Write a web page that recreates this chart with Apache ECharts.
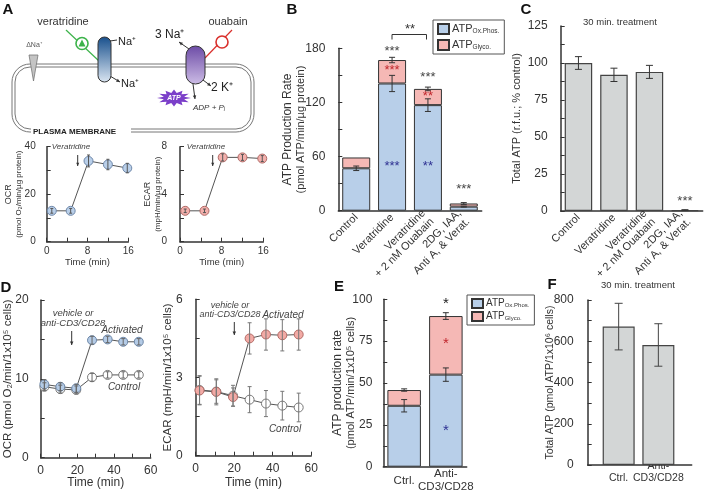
<!DOCTYPE html>
<html>
<head>
<meta charset="utf-8">
<script src="https://cdn.jsdelivr.net/npm/echarts@6/dist/echarts.min.js"></script>
<style>
  html, body { margin: 0; padding: 0; background: #fff; }
  #main { width: 709px; height: 494px; }
</style>
</head>
<body>
<div id="main"></div>
<script>
// ---- data ----
// A: veratridine time course
var aTime = [1, 4.7, 8.2, 12, 15.8];
var aOcr = [13, 13, 34, 32.5, 31];
var aOcrErr = [1, 1, 2.5, 2.2, 2];
var aEcar = [2.6, 2.6, 7.1, 7.1, 7.0];
var aEcarErr = [0.15, 0.15, 0.3, 0.25, 0.25];

// B: ATP production rate (stacked)
var bCats = ["Control", "Veratridine", "Veratridine\n+ 2 nM Ouabain", "2DG, IAA,\nAnti A, & Verat."];
var bOx = [47, 141, 117, 4.5];
var bGly = [12, 26, 18, 3.5];
var bOxErr = [2.5, 9, 7, 0.5];
var bTotErr = [0, 3, 2, 1];

// C: total ATP, 30 min
var cVals = [100, 92, 94, 0.6];
var cErr = [4.3, 4.5, 4.4, 0.3];

// D: T cell activation time course
var dTime = [2, 10.7, 19.4, 28, 36.5, 45, 53.5];
var dOcrAct = [9.3, 9.0, 8.8, 14.9, 15.0, 14.7, 14.7];
var dOcrActErr = [0.6, 0.5, 0.5, 0.5, 0.4, 0.4, 0.4];
var dOcrCtl = [9.0, 8.7, 8.6, 10.2, 10.5, 10.5, 10.5];
var dOcrCtlErr = [0.5, 0.5, 0.5, 0.5, 0.4, 0.4, 0.4];
var dEcarAct = [2.5, 2.45, 2.25, 4.5, 4.65, 4.62, 4.65];
var dEcarActErr = [0.55, 0.5, 0.35, 0.6, 0.6, 0.6, 0.6];
var dEcarCtl = [2.52, 2.46, 2.3, 2.15, 2.0, 1.92, 1.85];
var dEcarCtlErr = [0.55, 0.45, 0.4, 0.5, 0.5, 0.55, 0.55];

// E: ATP production rate, T cells
var eCats = ["Ctrl.", "Anti-\nCD3/CD28"];
var eOx = [36.4, 55];
var eGly = [9.4, 35];
var eOxErr = [3.7, 4];
var eTotErr = [0.7, 2];

// F: total ATP, T cells
var fCats = ["Ctrl.", "Anti-\nCD3/CD28"];
var fVals = [671, 582];
var fErr = [113, 103];

// significance marks [category, y, text, colour]
var GRY = "#444", RED = "#c1272d", BLU = "#2e3192";
var sigB = [[1, 177, "***", GRY], [1, 155, "***", RED], [1, 49, "***", BLU],
            [2, 148, "***", GRY], [2, 127, "**", RED], [2, 49, "**", BLU],
            [3, 24, "***", GRY]];
var sigC = [[3, 6.5, "***", GRY]];
var sigE = [[1, 97, "*", "#222"], [1, 73.5, "*", RED], [1, 21.5, "*", BLU]];

// ---- helpers ----
var FONT = "Liberation Sans";
var FF = '"Liberation Sans", Arial, sans-serif';
var AX = "#333";
var BLUEF = "#b8cfe9", PINKF = "#f5b8b5", GREYF = "#d3d6d6";

function pick(v, every) {
  var r = v / every;
  return Math.abs(r - Math.round(r)) < 1e-6 ? String(v) : "";
}

function valAxis(gi, min, max, step, every, fs, margin, extra) {
  var o = {
    type: "value", gridIndex: gi, min: min, max: max, interval: step,
    nameMoveOverlap: false,
    axisLine: { show: true, onZero: false, lineStyle: { color: AX, width: 1.5 } },
    axisTick: { show: true, inside: true, length: 4, lineStyle: { color: AX, width: 1 } },
    splitLine: { show: false },
    axisLabel: { color: "#333", fontSize: fs, fontFamily: FONT, margin: margin,
      formatter: function (v) { return pick(v, every); } },
    nameTextStyle: { color: "#333", fontFamily: FONT }
  };
  for (var k in extra) o[k] = extra[k];
  return o;
}

function catAxis(gi, cats, label) {
  var l = { color: "#333", fontSize: 11, fontFamily: FONT, interval: 0 };
  for (var k in label) l[k] = label[k];
  return {
    type: "category", gridIndex: gi, data: cats,
    axisLine: { show: true, lineStyle: { color: AX, width: 1.5 } },
    axisTick: { show: false },
    axisLabel: l
  };
}

// vertical error bars: data rows [x, low, high]
function errSeries(ai, rows, cap, color, z) {
  return {
    type: "custom", xAxisIndex: ai, yAxisIndex: ai, z: z || 5, silent: true,
    data: rows,
    renderItem: function (params, api) {
      var lo = api.coord([api.value(0), api.value(1)]);
      var hi = api.coord([api.value(0), api.value(2)]);
      var st = { stroke: color, lineWidth: 1 };
      return { type: "group", children: [
        { type: "line", shape: { x1: lo[0], y1: lo[1], x2: hi[0], y2: hi[1] }, style: st },
        { type: "line", shape: { x1: lo[0] - cap, y1: lo[1], x2: lo[0] + cap, y2: lo[1] }, style: st },
        { type: "line", shape: { x1: hi[0] - cap, y1: hi[1], x2: hi[0] + cap, y2: hi[1] }, style: st }
      ] };
    }
  };
}

function sigSeries(ai, marks, fs) {
  return {
    type: "custom", xAxisIndex: ai, yAxisIndex: ai, z: 20, silent: true,
    data: marks.map(function (m) { return [m[0], m[1]]; }),
    renderItem: function (params, api) {
      var p = api.coord([api.value(0), api.value(1)]);
      var m = marks[params.dataIndex];
      return { type: "text", x: p[0], y: p[1], style: {
        text: m[2], fill: m[3], font: fs + "px " + FF,
        align: "center", verticalAlign: "middle", textAlign: "center", textVerticalAlign: "middle" } };
    }
  };
}

function pts(xs, ys) { return xs.map(function (x, i) { return [x, ys[i]]; }); }
function errRows(xs, ys, es) {
  var out = [];
  xs.forEach(function (x, i) { if (es[i] > 0) out.push([x, ys[i] - es[i], ys[i] + es[i]]); });
  return out;
}
function sum(a, b) { return a.map(function (v, i) { return v + b[i]; }); }
function idx(a) { return a.map(function (v, i) { return i; }); }

function lineSeries(ai, data, fill, border, size, z) {
  return {
    type: "line", xAxisIndex: ai, yAxisIndex: ai, data: data, z: z || 3,
    symbol: "circle", symbolSize: size, showSymbol: true, silent: true,
    lineStyle: { color: "#555", width: 1 },
    itemStyle: { color: fill, borderColor: border, borderWidth: 1 },
    animation: false
  };
}

function T(x, y, s, o) {
  o = o || {};
  var a = o.a || "center";
  return { type: "text", x: x, y: y, z: 100, rotation: o.r || 0, style: {
    text: s, fill: o.c || "#333",
    font: (o.it ? "italic " : "") + (o.b ? "bold " : "") + (o.fs || 11) + "px " + FF,
    align: a, textAlign: a, verticalAlign: "middle", textVerticalAlign: "middle" } };
}
function L(x1, y1, x2, y2, c, w) {
  return { type: "line", z: 90, shape: { x1: x1, y1: y1, x2: x2, y2: y2 }, style: { stroke: c || "#333", lineWidth: w || 1 } };
}
function arrow(x1, y1, x2, y2, c, hs) {
  c = c || "#333"; hs = hs || 4;
  var ang = Math.atan2(y2 - y1, x2 - x1);
  var p1 = [x2 - hs * Math.cos(ang - 0.45), y2 - hs * Math.sin(ang - 0.45)];
  var p2 = [x2 - hs * Math.cos(ang + 0.45), y2 - hs * Math.sin(ang + 0.45)];
  return [L(x1, y1, x2, y2, c, 1),
    { type: "polygon", z: 91, shape: { points: [[x2, y2], p1, p2] }, style: { fill: c } }];
}
function starPts(cx, cy, rx, ry, n) {
  var out = [];
  for (var i = 0; i < n * 2; i++) {
    var a = Math.PI * i / n, f = i % 2 ? 0.62 : 1;
    out.push([cx + rx * f * Math.cos(a), cy + ry * f * Math.sin(a)]);
  }
  return out;
}

// ---- panel A cartoon ----
var G = echarts.graphic;
var cartoon = [
  { type: "rect", z: 80, shape: { x: 12, y: 64, width: 242, height: 68, r: 18 }, style: { fill: "#fff", stroke: "#777", lineWidth: 1 } },
  { type: "rect", z: 80, shape: { x: 15, y: 67, width: 236, height: 62, r: 15 }, style: { fill: "none", stroke: "#777", lineWidth: 1 } },
  { type: "rect", z: 81, shape: { x: 31, y: 127, width: 100, height: 9 }, style: { fill: "#fff" } },
  T(33, 131.5, "PLASMA MEMBRANE", { a: "left", b: true, fs: 8, c: "#222" }),
  { type: "polygon", z: 82, shape: { points: [[29, 55], [38, 55], [33.5, 81]] }, style: { fill: "#c4c4c4", stroke: "#777", lineWidth: 0.8 } },
  T(34, 45, "ΔNa⁺", { fs: 7, c: "#555" }),
  T(63, 22, "veratridine", { fs: 11, c: "#333" }),
  L(66, 30, 99, 61, "#3cb34a", 1.2),
  { type: "circle", z: 92, shape: { cx: 82, cy: 43.5, r: 6 }, style: { fill: "#fff", stroke: "#3cb34a", lineWidth: 1.6 } },
  { type: "polygon", z: 93, shape: { points: [[82, 39.5], [78.5, 46.5], [85.5, 46.5]] }, style: { fill: "#3cb34a" } },
  { type: "rect", z: 92, shape: { x: 98, y: 37, width: 13, height: 45, r: 6.5 },
    style: { fill: new G.LinearGradient(0, 0, 0, 1, [{ offset: 0, color: "#174f8c" }, { offset: 1, color: "#dbe6f2" }]), stroke: "#333", lineWidth: 1 } },
  L(110, 41, 117, 40, "#333", 1),
  T(118, 42, "Na⁺", { a: "left", fs: 11, c: "#222" }),
  T(121, 84, "Na⁺", { a: "left", fs: 11, c: "#222" }),
  { type: "rect", z: 92, shape: { x: 186, y: 46, width: 19, height: 38, r: 9.5 },
    style: { fill: new G.LinearGradient(0, 0, 0, 1, [{ offset: 0, color: "#6c4ba6" }, { offset: 1, color: "#cdbde6" }]), stroke: "#333", lineWidth: 1 } },
  T(155, 35, "3 Na⁺", { a: "left", fs: 12, c: "#222" }),
  T(228, 22, "ouabain", { fs: 11, c: "#333" }),
  L(232, 30, 205, 58, "#d9302c", 1.2),
  { type: "circle", z: 92, shape: { cx: 222, cy: 42, r: 6 }, style: { fill: "#fff", stroke: "#d9302c", lineWidth: 1.6 } },
  L(218.5, 38.5, 225.5, 45.5, "#d9302c", 1.4),
  L(225.5, 38.5, 218.5, 45.5, "#d9302c", 1.4),
  T(211, 88, "2 K⁺", { a: "left", fs: 12, c: "#222" }),
  { type: "polygon", z: 92, shape: { points: starPts(174, 98, 17, 8.5, 12) }, style: { fill: "#7b3fc9" } },
  T(174, 98, "ATP", { fs: 7, it: true, b: true, c: "#fff" }),
  T(193, 108, "ADP + Pᵢ", { a: "left", fs: 8, it: true, c: "#333" })
];
cartoon = cartoon
  .concat(arrow(110, 76, 120, 82))
  .concat(arrow(189, 49, 179, 42))
  .concat(arrow(203, 80, 211, 86))
  .concat(arrow(193, 84, 195, 99));

// ---- other annotations ----
var notes = [
  T(8, 10, "A", { b: true, fs: 15, c: "#111" }),
  T(292, 10, "B", { b: true, fs: 15, c: "#111" }),
  T(526, 10, "C", { b: true, fs: 15, c: "#111" }),
  T(6, 288, "D", { b: true, fs: 15, c: "#111" }),
  T(339, 287, "E", { b: true, fs: 15, c: "#111" }),
  T(552, 285, "F", { b: true, fs: 15, c: "#111" }),
  T(620, 22, "30 min. treatment", { fs: 9.5 }),
  T(638, 285, "30 min. treatment", { fs: 9.5 }),
  T(71, 147, "Veratridine", { it: true, fs: 8, c: "#444" }),
  T(206, 147, "Veratridine", { it: true, fs: 8, c: "#444" }),
  T(73, 313, "vehicle or", { it: true, fs: 9.5, c: "#444" }),
  T(73, 323, "anti-CD3/CD28", { it: true, fs: 9.5, c: "#444" }),
  T(122, 330, "Activated", { it: true, fs: 10, c: "#444" }),
  T(124, 387, "Control", { it: true, fs: 10, c: "#444" }),
  T(230, 305, "vehicle or", { it: true, fs: 9, c: "#444" }),
  T(230, 314, "anti-CD3/CD28", { it: true, fs: 9, c: "#444" }),
  T(283, 315, "Activated", { it: true, fs: 10, c: "#444" }),
  T(285, 429, "Control", { it: true, fs: 10, c: "#444" }),
  { type: "polyline", z: 90, shape: { points: [[392, 39.5], [392, 34.5], [426.5, 34.5], [426.5, 39.5]] }, style: { stroke: "#333", lineWidth: 1, fill: null } },
  T(410, 29, "**", { fs: 13, c: "#333" })
];
notes = notes
  .concat(arrow(77.7, 155, 77.7, 166, "#333", 3.5))
  .concat(arrow(212.7, 155, 212.7, 166, "#333", 3.5))
  .concat(arrow(71.7, 331, 71.7, 345, "#333", 4))
  .concat(arrow(234.3, 322, 234.3, 335, "#333", 4));

// ---- axes ----
function yName(gap, rich, txt) {
  return { name: txt, nameLocation: "middle", nameGap: gap,
    nameTextStyle: { color: "#333", fontFamily: FONT, rich: rich, align: "center" } };
}
var richA = { b: { fontSize: 9, fontFamily: FONT, color: "#333", lineHeight: 10 }, s: { fontSize: 8, fontFamily: FONT, color: "#333", lineHeight: 10 } };
var richB = { b: { fontSize: 12, fontFamily: FONT, color: "#333", lineHeight: 13 }, s: { fontSize: 11, fontFamily: FONT, color: "#333", lineHeight: 13 } };
var timeA = { name: "Time (min)", nameLocation: "middle", nameGap: 16, nameTextStyle: { color: "#333", fontFamily: FONT, fontSize: 9.5 } };
var timeD = { name: "Time (min)", nameLocation: "middle", nameGap: 19, nameTextStyle: { color: "#333", fontFamily: FONT, fontSize: 12 } };
var rot = { rotate: 45, margin: 5, fontSize: 11, lineHeight: 12 };

var xAxes = [
  valAxis(0, 0, 16, 4, 8, 10, 5, timeA),
  valAxis(1, 0, 16, 4, 8, 10, 5, timeA),
  catAxis(2, bCats, rot),
  catAxis(3, bCats, rot),
  valAxis(4, 0, 60, 10, 20, 12, 7, timeD),
  valAxis(5, 0, 60, 10, 20, 12, 7, { name: "Time (min)", nameLocation: "middle", nameGap: 21, nameTextStyle: { color: "#333", fontFamily: FONT, fontSize: 12 } }),
  catAxis(6, eCats, { verticalAlign: "middle", margin: 14, fontSize: 11.5, lineHeight: 13 }),
  {
    type: "value", gridIndex: 7, min: 0.22, max: 2.84,
    axisLine: { show: true, onZero: false, lineStyle: { color: AX, width: 1.5 } },
    axisTick: { show: false }, splitLine: { show: false },
    axisLabel: { customValues: [1, 2], color: "#333", fontSize: 10.5, fontFamily: FONT, lineHeight: 12,
      verticalAlign: "bottom", margin: 19,
      formatter: function (v) { return fCats[Math.round(v) - 1] || ""; } }
  }
];

var yAxes = [
  valAxis(0, 0, 40, 10, 20, 10, 11, yName(23, richA, "{b|OCR}\n{s|(pmol O₂/min/µg protein)}")),
  valAxis(1, 0, 8, 2, 4, 10, 13, yName(17, richA, "{b|ECAR}\n{s|(mpH/min/µg protein)}")),
  valAxis(2, 0, 180, 30, 60, 12, 13, yName(31, richB, "{b|ATP Production Rate}\n{s|(pmol ATP/min/µg protein)}")),
  valAxis(3, 0, 125, 12.5, 25, 12, 13, yName(37, richB, "{s|Total ATP (r.f.u.; % control)}")),
  valAxis(4, 0, 20, 5, 10, 12, 12, yName(27, { s: { fontSize: 11.5, fontFamily: FONT, color: "#333" } }, "{s|OCR (pmol O₂/min/1x10⁵ cells)}")),
  valAxis(5, 0, 6, 1.5, 3, 12, 13, yName(22, { s: { fontSize: 11.5, fontFamily: FONT, color: "#333" } }, "{s|ECAR (mpH/min/1x10⁵ cells)}")),
  valAxis(6, 0, 100, 12.5, 25, 12, 11, yName(26, richB, "{b|ATP production rate}\n{s|(pmol ATP/min/1x10⁵ cells)}")),
  valAxis(7, 0, 800, 100, 200, 12, 14, yName(32, { s: { fontSize: 10.5, fontFamily: FONT, color: "#333" } }, "{s|Total ATP (pmol ATP/1x10⁶ cells)}"))
];

// ---- series ----
function stackBar(ai, name, data, color, stack, width) {
  return { type: "bar", name: name, xAxisIndex: ai, yAxisIndex: ai, stack: stack, data: data, barWidth: width,
    itemStyle: { color: color, borderColor: "#333", borderWidth: 1 }, silent: true, animation: false };
}

var series = [
  // A
  lineSeries(0, pts(aTime, aOcr), "#b9cfe9", "#6f88aa", 9),
  errSeries(0, errRows(aTime, aOcr, aOcrErr), 1.5, "#555", 6),
  lineSeries(1, pts(aTime, aEcar), "#f3b0ac", "#b06a66", 9),
  errSeries(1, errRows(aTime, aEcar, aEcarErr), 1.5, "#555", 6),
  // B
  stackBar(2, "Ox.Phos.", bOx, BLUEF, "b", 28),
  stackBar(2, "Glyco.", bGly, PINKF, "b", 28),
  errSeries(2, errRows(idx(bOx), bOx, bOxErr), 3, "#333", 8),
  errSeries(2, errRows(idx(bOx), sum(bOx, bGly), bTotErr), 3, "#333", 8),
  sigSeries(2, sigB, 13),
  // C
  { type: "bar", xAxisIndex: 3, yAxisIndex: 3, data: cVals, barWidth: 27.5, silent: true, animation: false,
    itemStyle: { color: GREYF, borderColor: "#444", borderWidth: 1.2 } },
  errSeries(3, errRows(idx(cVals), cVals, cErr), 3.5, "#333", 8),
  sigSeries(3, sigC, 13),
  // D
  lineSeries(4, pts(dTime, dOcrCtl), "#fff", "#777", 9, 3),
  lineSeries(4, pts(dTime, dOcrAct), "#b4cbe6", "#6d87a8", 9, 4),
  errSeries(4, errRows(dTime, dOcrCtl, dOcrCtlErr), 2, "#666", 6),
  errSeries(4, errRows(dTime, dOcrAct, dOcrActErr), 2, "#666", 6),
  lineSeries(5, pts(dTime, dEcarCtl), "#fff", "#777", 9, 3),
  lineSeries(5, pts(dTime, dEcarAct), "#f2aaa5", "#b36b66", 9, 4),
  errSeries(5, errRows(dTime, dEcarCtl, dEcarCtlErr), 2, "#777", 6),
  errSeries(5, errRows(dTime, dEcarAct, dEcarActErr), 2, "#777", 6),
  // E
  stackBar(6, "Ox.Phos.", eOx, BLUEF, "e", 33.5),
  stackBar(6, "Glyco.", eGly, PINKF, "e", 33.5),
  errSeries(6, errRows(idx(eOx), eOx, eOxErr), 3, "#333", 8),
  errSeries(6, errRows(idx(eOx), sum(eOx, eGly), eTotErr), 3, "#333", 8),
  sigSeries(6, sigE, 15),
  // F
  { type: "bar", xAxisIndex: 7, yAxisIndex: 7, data: pts([1, 2], fVals), barWidth: 32, silent: true, animation: false,
    itemStyle: { color: GREYF, borderColor: "#444", borderWidth: 1.2 } },
  errSeries(7, errRows([1, 2], fVals, fErr), 4, "#444", 8)
];

function legendAt(left, top, fs, ss, gap, h) {
  return {
    left: left, top: top, orient: "vertical", selectedMode: false,
    data: ["Ox.Phos.", "Glyco."], icon: "rect", itemWidth: 11, itemHeight: h, itemGap: gap,
    padding: [3, 5, 3, 4], borderColor: "#555", borderWidth: 1, backgroundColor: "#fff",
    formatter: function (n) { return "{a|ATP}{s|" + n + "}"; },
    textStyle: { color: "#333", fontFamily: FONT, padding: [0, 0, 0, -2],
      rich: { a: { fontSize: fs, fontFamily: FONT, verticalAlign: "bottom" },
              s: { fontSize: ss, fontFamily: FONT, verticalAlign: "bottom" } } }
  };
}

var grids = [
  [46.7, 146.7, 81.6, 95], [180, 146.7, 83.3, 95],
  [338.3, 48.3, 143.4, 162.4], [560.7, 26, 142, 185],
  [40.7, 300, 110, 157.7], [195.7, 299.3, 115.5, 156.4],
  [383.3, 299.3, 83.4, 167.4], [587.7, 300, 104, 165]
].map(function (g) {
  return { left: g[0], top: g[1], width: g[2], height: g[3], containLabel: false, outerBoundsMode: "none" };
});

var myChart = echarts.init(document.getElementById("main"));
myChart.setOption({
  animation: false,
  backgroundColor: "#fff",
  textStyle: { fontFamily: FONT },
  grid: grids,
  xAxis: xAxes,
  yAxis: yAxes,
  legend: [legendAt(433, 20, 11, 6.5, 4, 10), legendAt(467, 295, 10, 6, 2, 9)],
  graphic: { elements: cartoon.concat(notes) },
  series: series
});
</script>
</body>
</html>
